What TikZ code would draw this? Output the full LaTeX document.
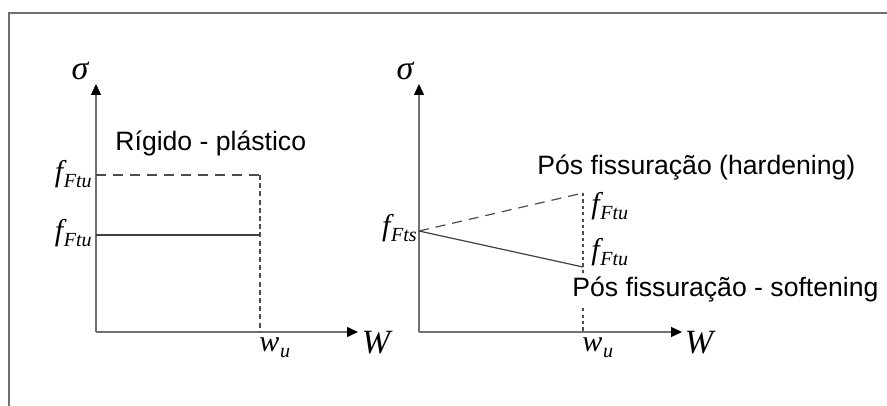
\documentclass[tikz,border=0pt]{standalone}
\usepackage{fontspec}
\setmainfont{Liberation Sans}
\newfontfamily\tms{Liberation Serif}
\usepackage{tikz}
\usetikzlibrary{positioning,arrows.meta}
\usepackage{xcolor}
\definecolor{axisgray}{HTML}{707070}
\newcommand{\sym}[2]{{\tms\itshape #1\kern0.3pt\raisebox{-0.45ex}{\fontsize{10}{11}\selectfont #2}}}

\begin{document}
\begin{tikzpicture}[x=0.5pt,y=-0.5pt,
  axis/.style={draw=axisgray,line width=0.7pt,-{Triangle[length=5.5pt,width=5pt,black]}},
  curve/.style={draw=black!75,line width=0.6pt},
  guide/.style={draw=black!70,line width=0.6pt,dash pattern=on 5pt off 3.5pt},
  drop/.style={draw=black!70,line width=0.6pt,dash pattern=on 2.5pt off 1.6pt},
  lbl/.style={font=\fontsize{13.3}{15}\selectfont,inner sep=0pt},
  sym/.style={font=\fontsize{15}{17}\selectfont,inner sep=0pt}]
\useasboundingbox (0,0) rectangle (887,406);
\fill[white] (0,0) rectangle (887,406);
% frame
\draw[axisgray,line width=0.9pt] (9,410) -- (9,13) -- (890,13);

% rigid - plastic
\coordinate (o1) at (96,332);
\coordinate (y1) at (96,84);
\coordinate (x1) at (358,332);
\draw[axis] (o1) -- (y1);
\draw[axis] (o1) -- (x1);
\node[sym,font=\fontsize{17}{19}\selectfont] (s1) at (80,71) {\tms\itshape σ};
\node[sym,font=\fontsize{17}{19}\selectfont] (W1) at (376,343) {\tms\itshape W};
\node[sym,anchor=west] (wu1) at (259,348) {\sym{w}{u}};
\coordinate (a1) at (96,175);
\coordinate (b1) at (260,175);
\coordinate (c1) at (96,235);
\coordinate (d1) at (260,235);
\coordinate (e1) at (260,332);
\draw[guide] (a1) -- (b1);
\draw[drop] (b1) -- (e1);
\draw[curve] (c1) -- (d1);
\node[sym,anchor=east] (fa1) at (92,174) {\sym{f}{Ftu}};
\node[sym,anchor=east] (fb1) at (92,233) {\sym{f}{Ftu}};
\node[lbl,anchor=west] (rp) at (115,143) {Rígido - plástico};

% post cracking
\coordinate (o2) at (419,332);
\coordinate (y2) at (419,84);
\coordinate (x2) at (682,332);
\draw[axis] (o2) -- (y2);
\draw[axis] (o2) -- (x2);
\node[sym,font=\fontsize{17}{19}\selectfont] (s2) at (405,71) {\tms\itshape σ};
\node[sym,font=\fontsize{17}{19}\selectfont] (W2) at (699,343) {\tms\itshape W};
\node[sym,anchor=west] (wu2) at (582,348) {\sym{w}{u}};
\coordinate (fs) at (419,231);
\coordinate (h2) at (583,193);
\coordinate (s2e) at (583,267);
\coordinate (e2) at (583,332);
\draw[guide] (fs) -- (h2);
\draw[drop,dash pattern=on 1.6pt off 1.6pt] (h2) -- (e2);
\draw[curve] (fs) -- (s2e);
\node[sym,anchor=east] (fts) at (417,228) {\sym{f}{Fts}};
\node[sym,anchor=west] (fh2) at (591,206) {\sym{f}{Ftu}};
\node[sym,anchor=west] (fs2) at (591,252) {\sym{f}{Ftu}};
\node[lbl,anchor=west] (hard) at (537,168) {Pós fissuração (hardening)};
\node[lbl,anchor=west,fill=white,inner sep=1pt] (soft) at (570,290) {Pós fissuração - softening};
\end{tikzpicture}
\end{document}
